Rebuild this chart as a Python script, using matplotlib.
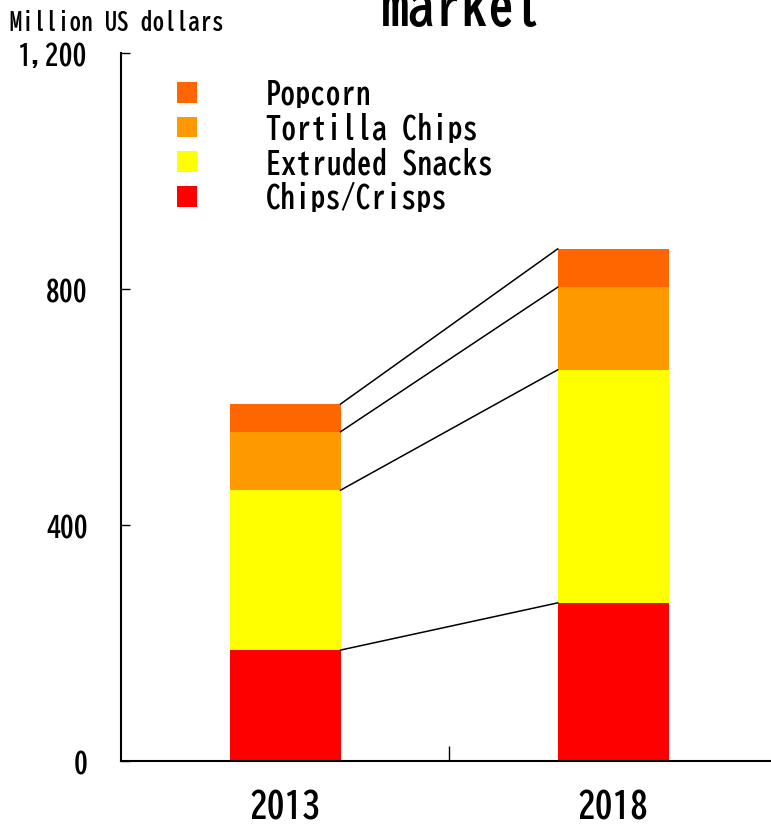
import matplotlib
matplotlib.use("Agg")
import matplotlib.pyplot as plt
from matplotlib import font_manager
from matplotlib.patches import Patch
from matplotlib.transforms import blended_transform_factory
import numpy as np

years = ["2013", "2018"]
segments = ["Chips/Crisps", "Extruded Snacks", "Tortilla Chips", "Popcorn"]
chips_crisps = [188, 268]
extruded_snacks = [271, 395]
tortilla_chips = [99, 140]
popcorn = [47, 65]
y_ticks = [0, 400, 800, 1200]
y_tick_labels = ["0", "400", "800", "1,200"]

colors = ["#ff0000", "#ffff00", "#ff9900", "#ff6600"]

installed = {f.name for f in font_manager.fontManager.ttflist}
family = "BIZ UDGothic" if "BIZ UDGothic" in installed else "DejaVu Sans"
plt.rcParams["font.family"] = [family, "DejaVu Sans"]
plt.rcParams["font.weight"] = "bold"

fig = plt.figure(figsize=(7.71, 8.28), dpi=100)
ax = fig.add_axes([0.157, 0.0797, 0.851, 0.8551])

x = np.arange(len(years))
width = 0.338
values = [chips_crisps, extruded_snacks, tortilla_chips, popcorn]
bottoms = np.zeros(len(years))
tops = []
for vals, color in zip(values, colors):
    vals = np.asarray(vals, dtype=float)
    ax.bar(x, vals, width, bottom=bottoms, color=color, linewidth=0, zorder=2)
    bottoms = bottoms + vals
    tops.append(bottoms.copy())

# connector lines between the top of each segment
for level in tops:
    ax.plot([x[0] + width / 2, x[1] - width / 2], [level[0], level[1]],
            color="black", lw=1.1, zorder=3)

ax.set_xlim(-0.5, 1.5)
ax.set_ylim(0, 1200)
ax.set_yticks(y_ticks)
ax.set_yticklabels(y_tick_labels, fontsize=20)
ax.tick_params(axis="y", direction="in", length=6.3, width=1.0, pad=24)
ax.set_xticks([0.5])
ax.set_xticklabels([""])
ax.tick_params(axis="x", direction="in", length=11, width=1.0)

trans = blended_transform_factory(ax.transData, ax.transAxes)
for xi, year in zip(x, years):
    ax.text(xi, -0.038, year, ha="center", va="top", fontsize=25.5,
            transform=trans)

for side in ("top", "right"):
    ax.spines[side].set_visible(False)
ax.spines["left"].set_linewidth(1.5)
ax.spines["bottom"].set_linewidth(1.5)

fig.text(0.013, 0.9638, "Million US dollars", fontsize=17, ha="left",
         va="baseline")
fig.text(0.599, 0.970, "market", fontsize=38.5, fontweight="bold", ha="center",
         va="baseline")

handles = [Patch(facecolor=c, edgecolor="none") for c in colors[::-1]]
ax.legend(handles, segments[::-1], loc="upper left", bbox_to_anchor=(0.085, 0.966),
          frameon=False, fontsize=21.8, handlelength=0.67, handleheight=0.67,
          handletextpad=2.27, labelspacing=0.15, borderaxespad=0, borderpad=0)

fig.savefig("out.png", dpi=100)
